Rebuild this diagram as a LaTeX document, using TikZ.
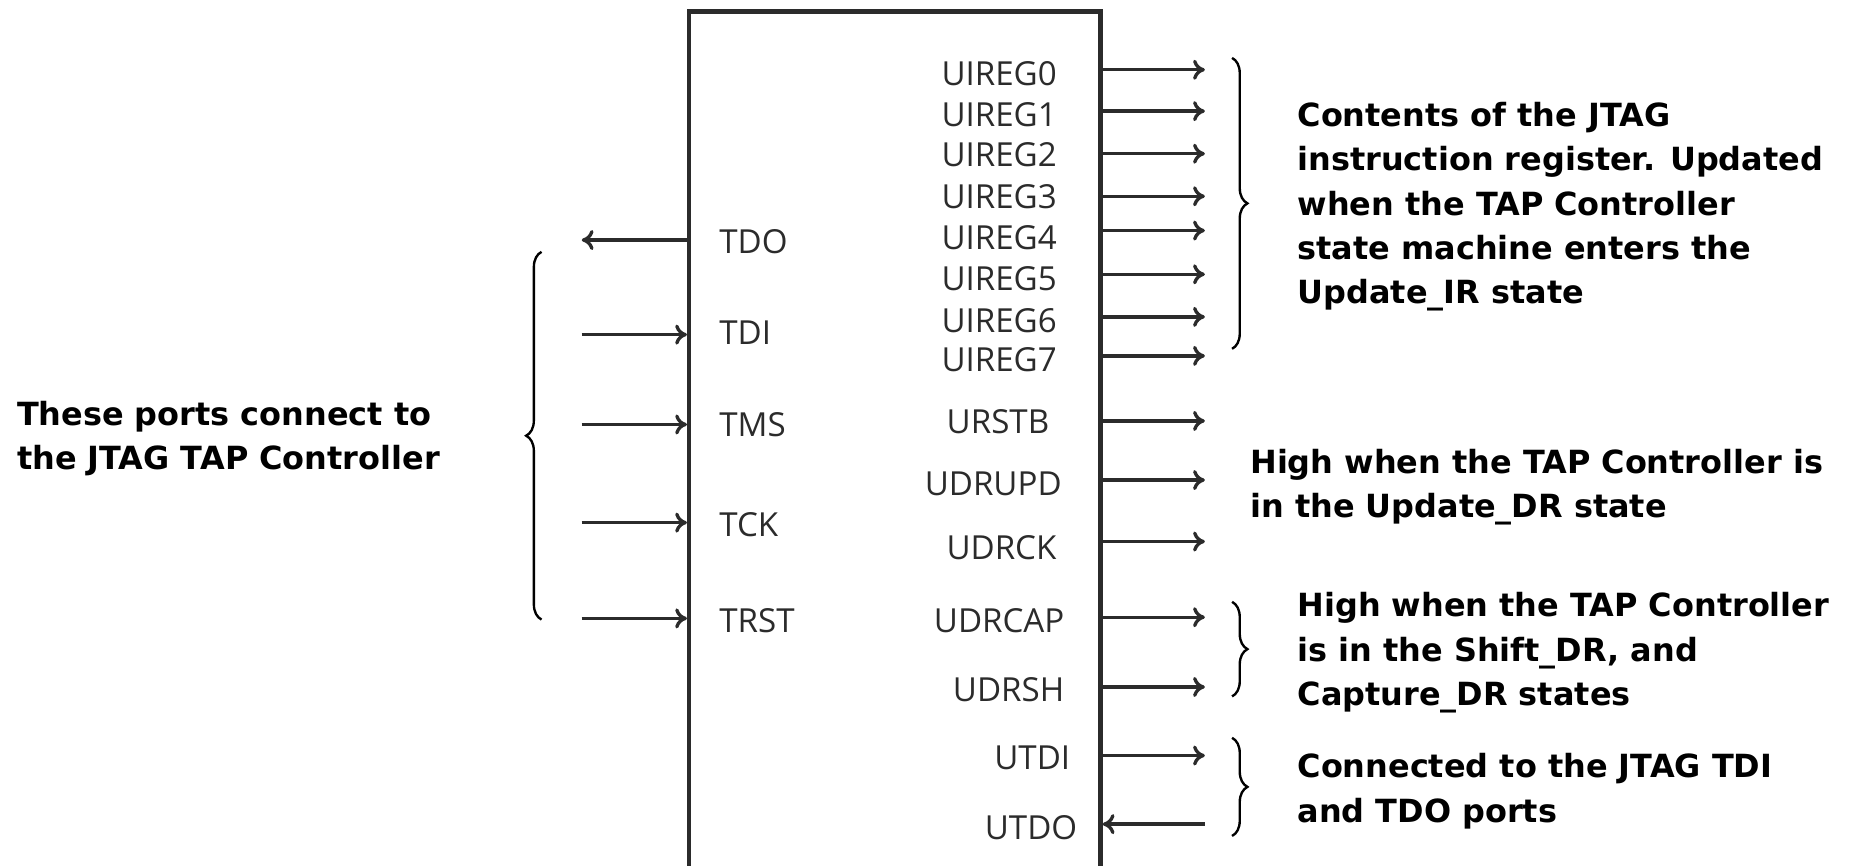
\documentclass[tikz,border=0pt]{standalone}
\usepackage{fontspec}
\setmainfont{Open Sans}
\newfontfamily\notefont{DejaVu Sans}
\usetikzlibrary{arrows.meta,decorations.pathreplacing}
\definecolor{ink}{HTML}{2B2B2B}
\tikzset{
  port/.style={font=\fontsize{14pt}{16pt}\selectfont, text=ink, inner sep=0pt},
  sig/.style={draw=ink, line width=1.4pt, -{To[length=5pt,width=8.5pt]}},
  blockbox/.style={draw=ink, line width=1.8pt, inner sep=0pt},
  brc/.style={decorate, decoration={brace, amplitude=6.5pt}, line width=1pt},
  note/.style={font=\notefont\bfseries\fontsize{13.5pt}{18.75pt}\selectfont, align=left, inner sep=0pt}
}
\begin{document}
\begin{tikzpicture}[x=0.5pt,y=-0.5pt]
\useasboundingbox (0,0) rectangle (1568,732);
\fill[white] (0,0) rectangle (1568,732);
\node[blockbox, anchor=north west, minimum width=174pt, minimum height=362pt] (blk) at (581,8) {};

\foreach \nm/\ay/\ty/\tx/\lab in {
  uireg0/59/62/845/UIREG0, uireg1/94/97/845/UIREG1, uireg2/130/131/845/UIREG2,
  uireg3/166/166/845/UIREG3, uireg4/195/201/845/UIREG4, uireg5/232/236/845/UIREG5,
  uireg6/268/271/845/UIREG6, uireg7/301/304/845/UIREG7, urstb/356/357/844/URSTB,
  udrupd/406/409/840/UDRUPD, udrck/458/463/847/UDRCK, udrcap/522/525/845/UDRCAP,
  udrsh/581/583/853/UDRSH, utdi/639/641/873/UTDI}
{
  \coordinate (\nm-a) at (blk.east |- 0,\ay);
  \coordinate (\nm-b) at (1019,\ay);
  \draw[sig] (\nm-a) -- (\nm-b);
  \node[port] (\nm-t) at (\tx,\ty) {\lab};
}
\coordinate (utdo-a) at (blk.east |- 0,697);
\coordinate (utdo-b) at (1019,697);
\draw[sig] (utdo-b) -- (utdo-a);
\node[port] (utdo-t) at (872,700) {UTDO};

\coordinate (tdo-a) at (blk.west |- 0,203);
\coordinate (tdo-b) at (492,203);
\draw[sig] (tdo-a) -- (tdo-b);
\node[port, anchor=west] (tdo-t) at (608,204.5) {TDO};

\foreach \nm/\ay/\ty/\lab in {tdi/283/281/TDI, tms/359/359.5/TMS, tck/442/444/TCK, trst/523/525/TRST}
{
  \coordinate (\nm-a) at (blk.west |- 0,\ay);
  \coordinate (\nm-b) at (492,\ay);
  \draw[sig] (\nm-b) -- (\nm-a);
  \node[port, anchor=west] (\nm-t) at (608,\ty) {\lab};
}

\coordinate (lbA) at (458,524); \coordinate (lbB) at (458,213);
\draw[brc] (lbA) -- (lbB);
\coordinate (rb1A) at (1042,49); \coordinate (rb1B) at (1042,295);
\draw[brc] (rb1A) -- (rb1B);
\coordinate (rb2A) at (1042,509); \coordinate (rb2B) at (1042,589);
\draw[brc] (rb2A) -- (rb2B);
\coordinate (rb3A) at (1042,624); \coordinate (rb3B) at (1042,707);
\draw[brc] (rb3A) -- (rb3B);

\node[note, anchor=west] (leftnote) at (14,371) {These ports connect to\\the JTAG TAP Controller};
\node[note, anchor=west] (irnote) at (1097,175) {Contents of the JTAG\\instruction register. Updated\\when the TAP Controller\\state machine enters the\\Update\_IR state};
\node[note, anchor=west] (updnote) at (1057,412) {High when the TAP Controller is\\in the Update\_DR state};
\node[note, anchor=west] (capnote) at (1097,552) {High when the TAP Controller\\is in the Shift\_DR, and\\Capture\_DR states};
\node[note, anchor=west] (tdinote) at (1097,669) {Connected to the JTAG TDI\\and TDO ports};
\end{tikzpicture}
\end{document}
